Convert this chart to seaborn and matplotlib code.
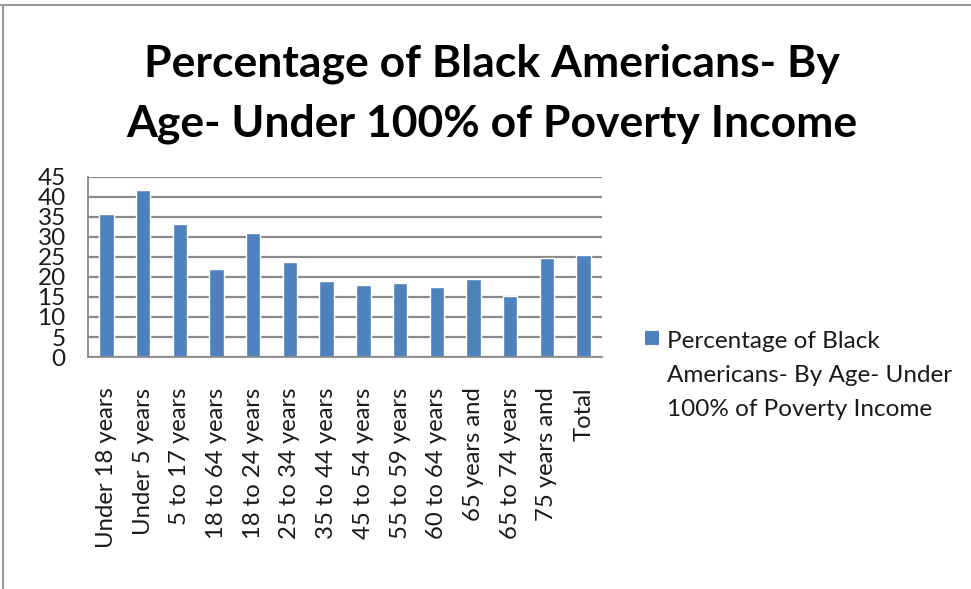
import matplotlib
matplotlib.use("Agg")
import matplotlib.pyplot as plt
import seaborn as sns
import pandas as pd
from matplotlib.patches import Rectangle
from matplotlib.lines import Line2D

categories = ["Under 18 years", "Under 5 years", "5 to 17 years", "18 to 64 years",
              "18 to 24 years", "25 to 34 years", "35 to 44 years", "45 to 54 years",
              "55 to 59 years", "60 to 64 years", "65 years and", "65 to 74 years",
              "75 years and", "Total"]
values = [35.7, 41.7, 33.2, 21.9, 31.1, 23.8, 18.9, 17.9, 18.5, 17.5, 19.5, 15.3, 24.8, 25.5]
series_name = "Percentage of Black Americans- By Age- Under 100% of Poverty Income"
legend_lines = ["Percentage of Black", "Americans- By Age- Under", "100% of Poverty Income"]
title_lines = ["Percentage of Black Americans- By", "Age- Under 100% of Poverty Income"]
yticks = [0, 5, 10, 15, 20, 25, 30, 35, 40, 45]

sns.set_theme(style="white")
plt.rcParams['font.family'] = ['Lato', 'DejaVu Sans']

W, H = 971, 589
fig = plt.figure(figsize=(W / 100, H / 100), dpi=100)
fig.patch.set_facecolor("white")

ax = fig.add_axes([88 / W, 1 - 357 / H, (602 - 88) / W, (357 - 177) / H])
df = pd.DataFrame({"cat": categories, "val": values})
bar_color = "#4F81BD"
sns.barplot(data=df, x="cat", y="val", color=bar_color, width=0.39,
            saturation=1, ax=ax, order=categories)

ax.set_ylim(0, 45)
ax.set_xlim(-0.5, len(categories) - 0.5)
ax.set_yticks(yticks)
ax.set_yticklabels([str(v) for v in yticks], fontsize=17.5)
ax.set_xlabel("")
ax.set_ylabel("")
ax.set_axisbelow(True)
ax.yaxis.grid(True, color="#8a8a8a", linewidth=1.6)
ax.xaxis.grid(False)
for s in ["top", "right"]:
    ax.spines[s].set_visible(False)
for s in ["left", "bottom"]:
    ax.spines[s].set_color("#8a8a8a")
    ax.spines[s].set_linewidth(1.3)

# x labels centered, tick marks at boundaries
ax.set_xticks(range(len(categories)))
ax.set_xticklabels(categories, rotation=90, fontsize=17.2, va="top", ha="center")
ax.tick_params(axis="x", which="major", length=0, pad=22)
ax.set_xticks([i - 0.5 for i in range(len(categories) + 1)], minor=True)
ax.tick_params(axis="x", which="minor", length=5, color="#8a8a8a", width=1.2, direction="out")
ax.tick_params(axis="y", length=7, color="#8a8a8a", width=1.2, direction="out", pad=9)
for lab in ax.get_yticklabels():
    lab.set_color("#1a1a1a")
for lab in ax.get_xticklabels():
    lab.set_color("#1a1a1a")

# title
fig.text(492 / W, 1 - 77 / H, title_lines[0], ha="center", va="baseline",
         fontsize=32, fontweight="bold", color="black")
fig.text(492 / W, 1 - 136 / H, title_lines[1], ha="center", va="baseline",
         fontsize=32, fontweight="bold", color="black")

# legend
fig.add_artist(Rectangle((645 / W, 1 - 345 / H), 14 / W, 14 / H,
                         transform=fig.transFigure, facecolor=bar_color, edgecolor="none"))
for i, line in enumerate(legend_lines):
    fig.text(667 / W, 1 - (342 + i * 34) / H, line, ha="left", va="center",
             fontsize=17.5, color="#1a1a1a")

# outer border (top and left)
fig.add_artist(Line2D([0, 1], [1 - 5 / H, 1 - 5 / H], transform=fig.transFigure,
                      color="#9a9a9a", linewidth=1.5))
fig.add_artist(Line2D([3 / W, 3 / W], [0, 1 - 5 / H], transform=fig.transFigure,
                      color="#9a9a9a", linewidth=1.5))

fig.savefig("out.png", dpi=100)
